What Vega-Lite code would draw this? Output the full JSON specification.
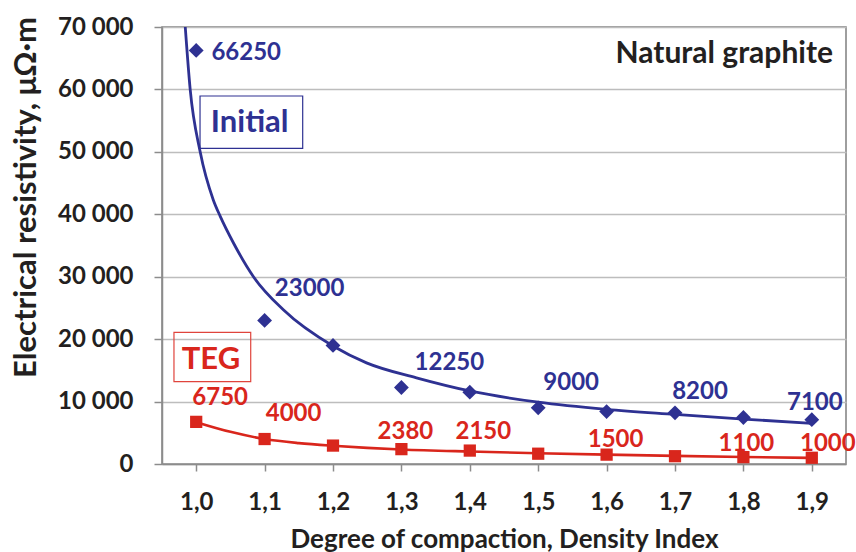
{
  "$schema": "https://vega.github.io/schema/vega-lite/v6.json",
  "width": 684,
  "height": 437,
  "autosize": {"type": "none"},
  "padding": {"left": 162, "top": 27, "right": 10, "bottom": 88},
  "background": "white",
  "config": {
    "font": "Lato",
    "view": {"stroke": "#7F7F7F", "strokeWidth": 1.5},
    "text": {"font": "Lato", "fontWeight": "bold", "fontSize": 24}
  },
  "datasets": {
    "initialCurve": [
      {"x": 0.984, "y": 70000}, {"x": 0.9912, "y": 60000}, {"x": 1.0058, "y": 50000},
      {"x": 1.025, "y": 42300}, {"x": 1.035, "y": 39700}, {"x": 1.0545, "y": 35400},
      {"x": 1.0837, "y": 30000}, {"x": 1.1274, "y": 24700}, {"x": 1.2, "y": 18900},
      {"x": 1.249, "y": 16200}, {"x": 1.322, "y": 13800}, {"x": 1.4, "y": 11700},
      {"x": 1.5, "y": 9900}, {"x": 1.6, "y": 8750}, {"x": 1.7, "y": 7950},
      {"x": 1.8, "y": 7200}, {"x": 1.9, "y": 6500}
    ],
    "tegCurve": [
      {"x": 1.0, "y": 6700}, {"x": 1.05, "y": 5150}, {"x": 1.1, "y": 4000},
      {"x": 1.15, "y": 3350}, {"x": 1.2, "y": 2920}, {"x": 1.25, "y": 2580},
      {"x": 1.3, "y": 2330}, {"x": 1.4, "y": 2000}, {"x": 1.5, "y": 1730},
      {"x": 1.6, "y": 1500}, {"x": 1.7, "y": 1300}, {"x": 1.8, "y": 1130},
      {"x": 1.9, "y": 980}
    ],
    "points": [
      {"series": "Initial", "x": 1.0, "y": 66250, "label": "66250"},
      {"series": "Initial", "x": 1.1, "y": 23000, "label": "23000"},
      {"series": "Initial", "x": 1.2, "y": 19000, "label": ""},
      {"series": "Initial", "x": 1.3, "y": 12250, "label": "12250"},
      {"series": "Initial", "x": 1.4, "y": 11500, "label": ""},
      {"series": "Initial", "x": 1.5, "y": 9000, "label": "9000"},
      {"series": "Initial", "x": 1.6, "y": 8400, "label": ""},
      {"series": "Initial", "x": 1.7, "y": 8200, "label": "8200"},
      {"series": "Initial", "x": 1.8, "y": 7450, "label": ""},
      {"series": "Initial", "x": 1.9, "y": 7100, "label": "7100"},
      {"series": "TEG", "x": 1.0, "y": 6750, "label": "6750"},
      {"series": "TEG", "x": 1.1, "y": 4000, "label": "4000"},
      {"series": "TEG", "x": 1.2, "y": 2950, "label": ""},
      {"series": "TEG", "x": 1.3, "y": 2380, "label": "2380"},
      {"series": "TEG", "x": 1.4, "y": 2150, "label": "2150"},
      {"series": "TEG", "x": 1.5, "y": 1650, "label": ""},
      {"series": "TEG", "x": 1.6, "y": 1500, "label": "1500"},
      {"series": "TEG", "x": 1.7, "y": 1250, "label": ""},
      {"series": "TEG", "x": 1.8, "y": 1100, "label": "1100"},
      {"series": "TEG", "x": 1.9, "y": 1000, "label": "1000"}
    ]
  },
  "layer": [
    {
      "data": {"name": "tegCurve"},
      "mark": {"type": "line", "color": "#D9261C", "strokeWidth": 2.6, "interpolate": "monotone", "clip": true},
      "encoding": {
        "x": {
          "field": "x", "type": "quantitative",
          "scale": {"domain": [0.95, 1.95], "nice": false, "zero": false},
          "axis": {
            "values": [1.0, 1.05, 1.1, 1.15, 1.2, 1.25, 1.3, 1.35, 1.4, 1.45, 1.5, 1.55, 1.6, 1.65, 1.7, 1.75, 1.8, 1.85, 1.9, 1.95],
            "labelExpr": "round(datum.value*100) % 10 == 0 ? replace(format(datum.value, '.1f'), '.', ',') : ''",
            "labelFont": "Lato", "labelFontWeight": "bold", "labelFontSize": 24, "labelColor": "#231F20",
            "labelBaseline": "alphabetic", "labelPadding": 38, "labelFlush": false, "labelOverlap": false,
            "domainColor": "#8C8C8C", "domainWidth": 1.5,
            "tickColor": "#8C8C8C", "tickWidth": 1.5,
            "tickSize": {"condition": {"test": "round(datum.value*100) % 10 == 5 && datum.value < 1.9", "value": -8}, "value": 7},
            "grid": false,
            "title": "Degree of compaction, Density Index",
            "titleFont": "Lato", "titleFontWeight": "bold", "titleFontSize": 26, "titleColor": "#231F20",
            "titleBaseline": "alphabetic", "titleY": 83, "titleX": 342, "titleAlign": "center"
          }
        },
        "y": {
          "field": "y", "type": "quantitative",
          "scale": {"domain": [0, 70000], "nice": false, "zero": true},
          "axis": {
            "values": [0, 10000, 20000, 30000, 40000, 50000, 60000, 70000],
            "labelExpr": "replace(format(datum.value, ','), ',', ' ')",
            "labelFont": "Lato", "labelFontWeight": "bold", "labelFontSize": 24, "labelColor": "#231F20",
            "labelPadding": 21, "labelOverlap": false, "labelFlush": false, "labelBaseline": "middle",
            "domainColor": "#8C8C8C", "domainWidth": 1.5,
            "tickColor": "#8C8C8C", "tickWidth": 1.5, "tickSize": 8,
            "grid": true, "gridColor": "#BDBDBD", "gridWidth": 1.5,
            "title": "Electrical resistivity, μΩ·m",
            "titleFont": "Lato", "titleFontWeight": "bold", "titleFontSize": 31, "titleColor": "#231F20",
            "titleAngle": -90, "titleBaseline": "alphabetic", "titleAlign": "center",
            "titleX": -127, "titleY": 170
          }
        }
      }
    },
    {
      "data": {"name": "initialCurve"},
      "mark": {"type": "line", "color": "#2E3192", "strokeWidth": 2.8, "interpolate": "monotone", "clip": true},
      "encoding": {"x": {"field": "x", "type": "quantitative"}, "y": {"field": "y", "type": "quantitative"}}
    },
    {
      "data": {"name": "points"},
      "transform": [{"filter": "datum.series == 'Initial'"}],
      "mark": {"type": "point", "shape": "diamond", "filled": true, "size": 220, "color": "#2E3192", "opacity": 1},
      "encoding": {"x": {"field": "x", "type": "quantitative"}, "y": {"field": "y", "type": "quantitative"}}
    },
    {
      "data": {"name": "points"},
      "transform": [{"filter": "datum.series == 'TEG'"}],
      "mark": {"type": "point", "shape": "square", "filled": true, "size": 150, "color": "#D9261C", "opacity": 1},
      "encoding": {"x": {"field": "x", "type": "quantitative"}, "y": {"field": "y", "type": "quantitative"}}
    },
    {"data": {"name": "points"}, "transform": [{"filter": "datum.label == '66250'"}],
     "mark": {"type": "text", "color": "#2E3192", "dx": 50, "dy": 10, "align": "center", "baseline": "alphabetic"},
     "encoding": {"x": {"field": "x", "type": "quantitative"}, "y": {"field": "y", "type": "quantitative"}, "text": {"field": "label"}}},
    {"data": {"name": "points"}, "transform": [{"filter": "datum.label == '23000'"}],
     "mark": {"type": "text", "color": "#2E3192", "dx": 45, "dy": -24, "align": "center", "baseline": "alphabetic"},
     "encoding": {"x": {"field": "x", "type": "quantitative"}, "y": {"field": "y", "type": "quantitative"}, "text": {"field": "label"}}},
    {"data": {"name": "points"}, "transform": [{"filter": "datum.label == '12250'"}],
     "mark": {"type": "text", "color": "#2E3192", "dx": 48, "dy": -18, "align": "center", "baseline": "alphabetic"},
     "encoding": {"x": {"field": "x", "type": "quantitative"}, "y": {"field": "y", "type": "quantitative"}, "text": {"field": "label"}}},
    {"data": {"name": "points"}, "transform": [{"filter": "datum.label == '9000'"}],
     "mark": {"type": "text", "color": "#2E3192", "dx": 33, "dy": -17.5, "align": "center", "baseline": "alphabetic"},
     "encoding": {"x": {"field": "x", "type": "quantitative"}, "y": {"field": "y", "type": "quantitative"}, "text": {"field": "label"}}},
    {"data": {"name": "points"}, "transform": [{"filter": "datum.label == '8200'"}],
     "mark": {"type": "text", "color": "#2E3192", "dx": 25, "dy": -14, "align": "center", "baseline": "alphabetic"},
     "encoding": {"x": {"field": "x", "type": "quantitative"}, "y": {"field": "y", "type": "quantitative"}, "text": {"field": "label"}}},
    {"data": {"name": "points"}, "transform": [{"filter": "datum.label == '7100'"}],
     "mark": {"type": "text", "color": "#2E3192", "dx": 3, "dy": -10, "align": "center", "baseline": "alphabetic"},
     "encoding": {"x": {"field": "x", "type": "quantitative"}, "y": {"field": "y", "type": "quantitative"}, "text": {"field": "label"}}},
    {"data": {"name": "points"}, "transform": [{"filter": "datum.label == '6750'"}],
     "mark": {"type": "text", "color": "#D9261C", "dx": 24, "dy": -16.5, "align": "center", "baseline": "alphabetic"},
     "encoding": {"x": {"field": "x", "type": "quantitative"}, "y": {"field": "y", "type": "quantitative"}, "text": {"field": "label"}}},
    {"data": {"name": "points"}, "transform": [{"filter": "datum.label == '4000'"}],
     "mark": {"type": "text", "color": "#D9261C", "dx": 29, "dy": -18.5, "align": "center", "baseline": "alphabetic"},
     "encoding": {"x": {"field": "x", "type": "quantitative"}, "y": {"field": "y", "type": "quantitative"}, "text": {"field": "label"}}},
    {"data": {"name": "points"}, "transform": [{"filter": "datum.label == '2380'"}],
     "mark": {"type": "text", "color": "#D9261C", "dx": 4, "dy": -10, "align": "center", "baseline": "alphabetic"},
     "encoding": {"x": {"field": "x", "type": "quantitative"}, "y": {"field": "y", "type": "quantitative"}, "text": {"field": "label"}}},
    {"data": {"name": "points"}, "transform": [{"filter": "datum.label == '2150'"}],
     "mark": {"type": "text", "color": "#D9261C", "dx": 13.5, "dy": -11.5, "align": "center", "baseline": "alphabetic"},
     "encoding": {"x": {"field": "x", "type": "quantitative"}, "y": {"field": "y", "type": "quantitative"}, "text": {"field": "label"}}},
    {"data": {"name": "points"}, "transform": [{"filter": "datum.label == '1500'"}],
     "mark": {"type": "text", "color": "#D9261C", "dx": 9, "dy": -7.7, "align": "center", "baseline": "alphabetic"},
     "encoding": {"x": {"field": "x", "type": "quantitative"}, "y": {"field": "y", "type": "quantitative"}, "text": {"field": "label"}}},
    {"data": {"name": "points"}, "transform": [{"filter": "datum.label == '1100'"}],
     "mark": {"type": "text", "color": "#D9261C", "dx": 3, "dy": -6, "align": "center", "baseline": "alphabetic"},
     "encoding": {"x": {"field": "x", "type": "quantitative"}, "y": {"field": "y", "type": "quantitative"}, "text": {"field": "label"}}},
    {"data": {"name": "points"}, "transform": [{"filter": "datum.label == '1000'"}],
     "mark": {"type": "text", "color": "#D9261C", "dx": 16, "dy": -7.2, "align": "center", "baseline": "alphabetic"},
     "encoding": {"x": {"field": "x", "type": "quantitative"}, "y": {"field": "y", "type": "quantitative"}, "text": {"field": "label"}}},
    {
      "data": {"values": [{}]},
      "mark": {"type": "rect", "fill": "white", "fillOpacity": 0, "stroke": "#2E3192", "strokeWidth": 1.2},
      "encoding": {
        "x": {"datum": 1.0056, "type": "quantitative"}, "x2": {"datum": 1.1557},
        "y": {"datum": 58948, "type": "quantitative"}, "y2": {"datum": 50570}
      }
    },
    {
      "data": {"values": [{}]},
      "mark": {"type": "text", "color": "#2E3192", "fontSize": 31, "align": "center", "baseline": "alphabetic"},
      "encoding": {
        "x": {"datum": 1.0782, "type": "quantitative"},
        "y": {"datum": 53229, "type": "quantitative"},
        "text": {"value": "Initial"}
      }
    },
    {
      "data": {"values": [{}]},
      "mark": {"type": "rect", "fill": "white", "fillOpacity": 0, "stroke": "#E0443C", "strokeWidth": 1.2},
      "encoding": {
        "x": {"datum": 0.9675, "type": "quantitative"}, "x2": {"datum": 1.0797},
        "y": {"datum": 21097, "type": "quantitative"}, "y2": {"datum": 13186}
      }
    },
    {
      "data": {"values": [{}]},
      "mark": {"type": "text", "color": "#D9261C", "fontSize": 31, "align": "center", "baseline": "alphabetic"},
      "encoding": {
        "x": {"datum": 1.0216, "type": "quantitative"},
        "y": {"datum": 15170, "type": "quantitative"},
        "text": {"value": "TEG"}
      }
    },
    {
      "data": {"values": [{}]},
      "mark": {"type": "text", "color": "#231F20", "fontSize": 30, "align": "right", "baseline": "alphabetic"},
      "encoding": {
        "x": {"datum": 1.931, "type": "quantitative"},
        "y": {"datum": 64185, "type": "quantitative"},
        "text": {"value": "Natural graphite"}
      }
    }
  ]
}
